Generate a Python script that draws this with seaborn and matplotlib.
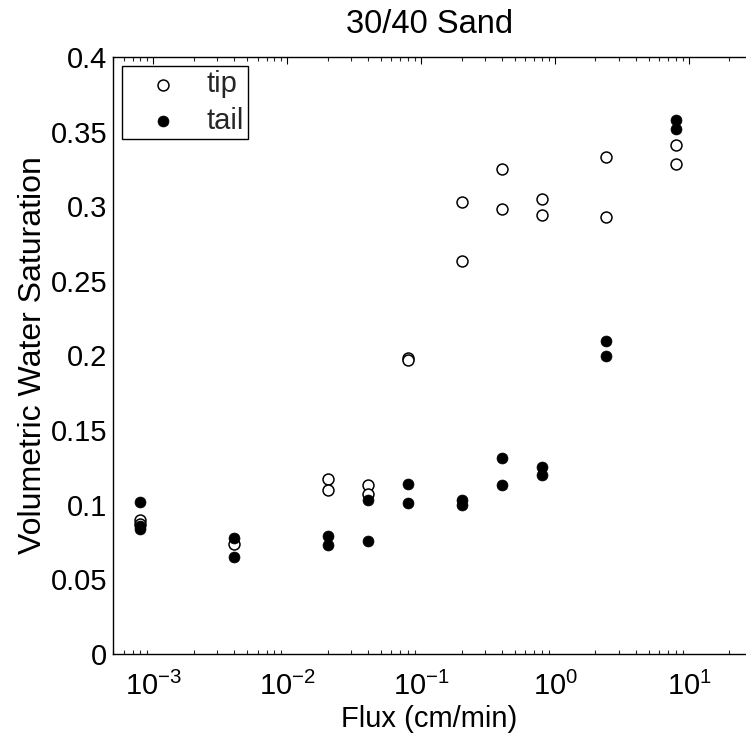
import numpy as np
import pandas as pd
import matplotlib
matplotlib.use("Agg")
import matplotlib.pyplot as plt
import seaborn as sns
from matplotlib.ticker import LogLocator, LogFormatterMathtext, FixedLocator

sns.set_theme(style="white")
plt.rcParams['font.family'] = ['Liberation Sans', 'DejaVu Sans']
plt.rcParams['mathtext.fontset'] = 'custom'
plt.rcParams['mathtext.rm'] = 'Liberation Sans'
plt.rcParams['mathtext.it'] = 'Liberation Sans'
plt.rcParams['mathtext.bf'] = 'Liberation Sans'

# Data
tip_flux = [8e-4, 8e-4, 4e-3, 0.02, 0.02, 0.04, 0.04, 0.08, 0.08,
            0.2, 0.2, 0.4, 0.4, 0.8, 0.8, 2.4, 2.4, 8, 8]
tip_sat = [0.090, 0.087, 0.074, 0.117, 0.110, 0.113, 0.107, 0.198, 0.197,
           0.303, 0.263, 0.325, 0.298, 0.305, 0.294, 0.333, 0.293, 0.341, 0.328]
tail_flux = [8e-4, 8e-4, 8e-4, 4e-3, 4e-3, 0.02, 0.02, 0.04, 0.04, 0.08, 0.08,
             0.2, 0.2, 0.4, 0.4, 0.8, 0.8, 2.4, 2.4, 8, 8]
tail_sat = [0.102, 0.086, 0.084, 0.078, 0.065, 0.079, 0.073, 0.103, 0.076, 0.114, 0.101,
            0.103, 0.100, 0.131, 0.113, 0.125, 0.120, 0.210, 0.200, 0.358, 0.352]

tip = pd.DataFrame({"flux": tip_flux, "sat": tip_sat})
tail = pd.DataFrame({"flux": tail_flux, "sat": tail_sat})

fig = plt.figure(figsize=(7.46, 7.36), dpi=100)
ax = fig.add_axes([113/746, 82/736, 1 - 113/746, (654-57)/736])

sns.scatterplot(data=tip, x="flux", y="sat", ax=ax, marker="o", s=62,
                facecolor="white", edgecolor="black", linewidth=1.1, label="tip", zorder=3)
sns.scatterplot(data=tail, x="flux", y="sat", ax=ax, marker="o", s=62,
                color="black", edgecolor="black", linewidth=0.5, label="tail", zorder=4)

ax.set_xscale("log")
ax.set_xlim(5e-4, 10**1.425)
ax.set_ylim(0, 0.4)
ax.set_yticks(np.arange(0, 0.401, 0.05))
ax.set_yticklabels(["0", "0.05", "0.1", "0.15", "0.2", "0.25", "0.3", "0.35", "0.4"])
ax.xaxis.set_major_locator(FixedLocator([1e-3, 1e-2, 1e-1, 1e0, 1e1]))
ax.xaxis.set_major_formatter(LogFormatterMathtext())
ax.xaxis.set_minor_locator(LogLocator(base=10, subs=np.arange(2, 10), numticks=20))

for s in ["left", "bottom", "top"]:
    ax.spines[s].set_color("black")
    ax.spines[s].set_linewidth(1.0)
ax.spines["right"].set_visible(False)

ax.tick_params(axis="both", which="major", direction="in", length=5, width=0.8,
               labelsize=21, colors="black", top=True)
ax.tick_params(axis="y", which="major", pad=4)
ax.tick_params(axis="x", which="minor", direction="in", length=3, width=0.8, top=True, bottom=True)
ax.tick_params(axis="x", which="major", pad=13)

ax.set_xlabel("Flux (cm/min)", fontsize=21, color="black", labelpad=3)
ax.set_ylabel("Volumetric Water Saturation", fontsize=23, color="black", labelpad=2)
ax.set_title("30/40 Sand", fontsize=23.5, color="black", pad=17)

leg = ax.legend(loc="upper left", bbox_to_anchor=(0.014, 0.985), fontsize=21,
                frameon=True, fancybox=False, edgecolor="black", framealpha=1,
                handletextpad=0.26, borderpad=0.15, labelspacing=0.3, handlelength=2.5,
                borderaxespad=0)
leg.get_frame().set_linewidth(1.0)

fig.savefig("out.png", dpi=100)
